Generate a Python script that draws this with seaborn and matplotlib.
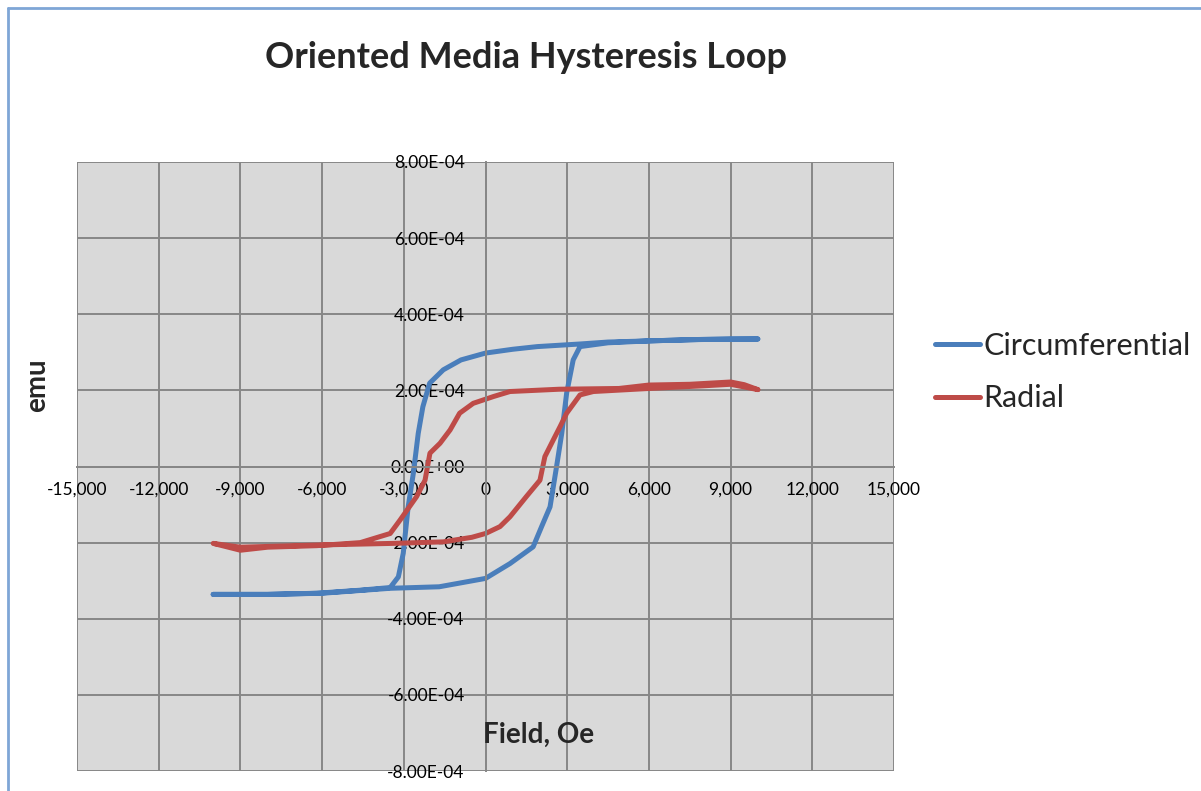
import matplotlib
matplotlib.use("Agg")
from matplotlib import pyplot as plt
from matplotlib.ticker import FuncFormatter, MultipleLocator
from matplotlib.lines import Line2D
import seaborn as sns
import pandas as pd

# data (field in Oe, moment in emu)
circ_field = [10000, 9000, 7500, 6000, 4500, 3500, 1900, 1000, 0, -900, -1550, -2050,
              -2300, -2470, -2650, -2840, -3020, -3200, -3500, -4600, -6200, -8000, -10000,
              -8000, -6000, -3500, -1700, 0, 900, 1750, 2060, 2370, 2610, 2800, 2980,
              3220, 3470, 4500, 6000, 8000, 10000]
circ_emu = [3.35e-4, 3.35e-4, 3.33e-4, 3.30e-4, 3.27e-4, 3.22e-4, 3.15e-4, 3.08e-4, 2.98e-4,
            2.80e-4, 2.54e-4, 2.19e-4, 1.57e-4, 0.87e-4, -0.18e-4, -1.06e-4, -2.28e-4,
            -2.90e-4, -3.18e-4, -3.25e-4, -3.33e-4, -3.36e-4, -3.36e-4,
            -3.36e-4, -3.33e-4, -3.20e-4, -3.16e-4, -2.94e-4, -2.55e-4, -2.11e-4, -1.58e-4,
            -1.06e-4, 0.0, 0.87e-4, 1.93e-4, 2.80e-4, 3.15e-4, 3.25e-4, 3.30e-4, 3.34e-4,
            3.35e-4]

rad_field = [10000, 9500, 9000, 7500, 6000, 4900, 2700, 900, 300, -450, -950, -1300, -1670,
             -2040, -2220, -2530, -3140, -3500, -4600, -6200, -8000, -9000, -10000,
             -9000, -6000, -3400, -1550, -500, 0, 530, 900, 1500, 2000, 2180, 2490, 2740,
             2980, 3470, 3960, 6000, 8000, 9000, 10000]
rad_emu = [2.02e-4, 2.15e-4, 2.22e-4, 2.16e-4, 2.14e-4, 2.05e-4, 2.03e-4, 1.97e-4, 1.84e-4,
           1.66e-4, 1.40e-4, 0.96e-4, 0.61e-4, 0.35e-4, -0.36e-4, -0.79e-4, -1.41e-4,
           -1.76e-4, -2.00e-4, -2.08e-4, -2.12e-4, -2.20e-4, -2.02e-4,
           -2.12e-4, -2.06e-4, -2.02e-4, -1.98e-4, -1.86e-4, -1.76e-4, -1.58e-4, -1.32e-4,
           -0.79e-4, -0.36e-4, 0.26e-4, 0.70e-4, 1.05e-4, 1.40e-4, 1.88e-4, 1.97e-4,
           2.05e-4, 2.12e-4, 2.16e-4, 2.02e-4]

series_names = ["Circumferential", "Radial"]
series_colors = ["#4a7ebb", "#be4b48"]

df = pd.concat([
    pd.DataFrame({"field": circ_field, "emu": circ_emu, "series": series_names[0]}),
    pd.DataFrame({"field": rad_field, "emu": rad_emu, "series": series_names[1]}),
], ignore_index=True)

sns.set_style("white")
plt.rcParams["font.family"] = ["Lato", "DejaVu Sans"]

fig = plt.figure(figsize=(12.01, 7.91), dpi=100)
ax = fig.add_axes([77 / 1201, 1 - 771 / 791, (894 - 77) / 1201, (771 - 162) / 791])
ax.set_facecolor("#d9d9d9")

sns.lineplot(data=df, x="field", y="emu", hue="series", palette=series_colors,
             sort=False, estimator=None, errorbar=None, linewidth=3.6, ax=ax)

ax.set_xlim(-15000, 15000)
ax.set_ylim(-8e-4, 8e-4)
ax.xaxis.set_major_locator(MultipleLocator(3000))
ax.yaxis.set_major_locator(MultipleLocator(2e-4))
ax.xaxis.set_major_formatter(FuncFormatter(lambda v, p: f"{v:,.0f}"))
ax.yaxis.set_major_formatter(FuncFormatter(lambda v, p: f"{v:.2E}"))

grid_color = "#878787"
ax.grid(True, color=grid_color, linewidth=1.4)
ax.set_axisbelow(True)

# axes cross in the middle like the Excel chart
ax.spines["left"].set_position(("data", 0))
ax.spines["bottom"].set_position(("data", 0))
for s in ["top", "right"]:
    ax.spines[s].set_visible(False)
for s in ["left", "bottom"]:
    ax.spines[s].set_color(grid_color)
    ax.spines[s].set_linewidth(1.4)
ax.tick_params(axis="both", length=0, labelsize=12.5, colors="black")
ax.tick_params(axis="y", pad=15)
ax.tick_params(axis="x", pad=11)

ax.set_xlabel("")
ax.set_ylabel("")
fig.text(539 / 1201, 1 - 735 / 791, "Field, Oe", ha="center", va="center",
         fontsize=20, fontweight="bold")
fig.text(37 / 1201, 1 - 385 / 791, "emu", rotation=90, ha="center", va="center",
         fontsize=20, fontweight="bold")
fig.text(526 / 1201, 1 - 57 / 791, "Oriented Media Hysteresis Loop", ha="center",
         va="center", fontsize=26, fontweight="bold")

ax.legend(loc="center left", bbox_to_anchor=(920 / 1201, 1 - 372 / 791),
          bbox_transform=fig.transFigure, frameon=False, fontsize=22, borderpad=0,
          handlelength=1.45, handletextpad=0.12, labelspacing=0.8)

# window border on left and top edge
fig.add_artist(Line2D([8 / 1201, 8 / 1201], [0, 1 - 8 / 791], transform=fig.transFigure,
                      color="#7fa6d6", linewidth=2))
fig.add_artist(Line2D([8 / 1201, 1], [1 - 8 / 791, 1 - 8 / 791], transform=fig.transFigure,
                      color="#7fa6d6", linewidth=2))

fig.savefig("out.png", dpi=100, facecolor="white")
